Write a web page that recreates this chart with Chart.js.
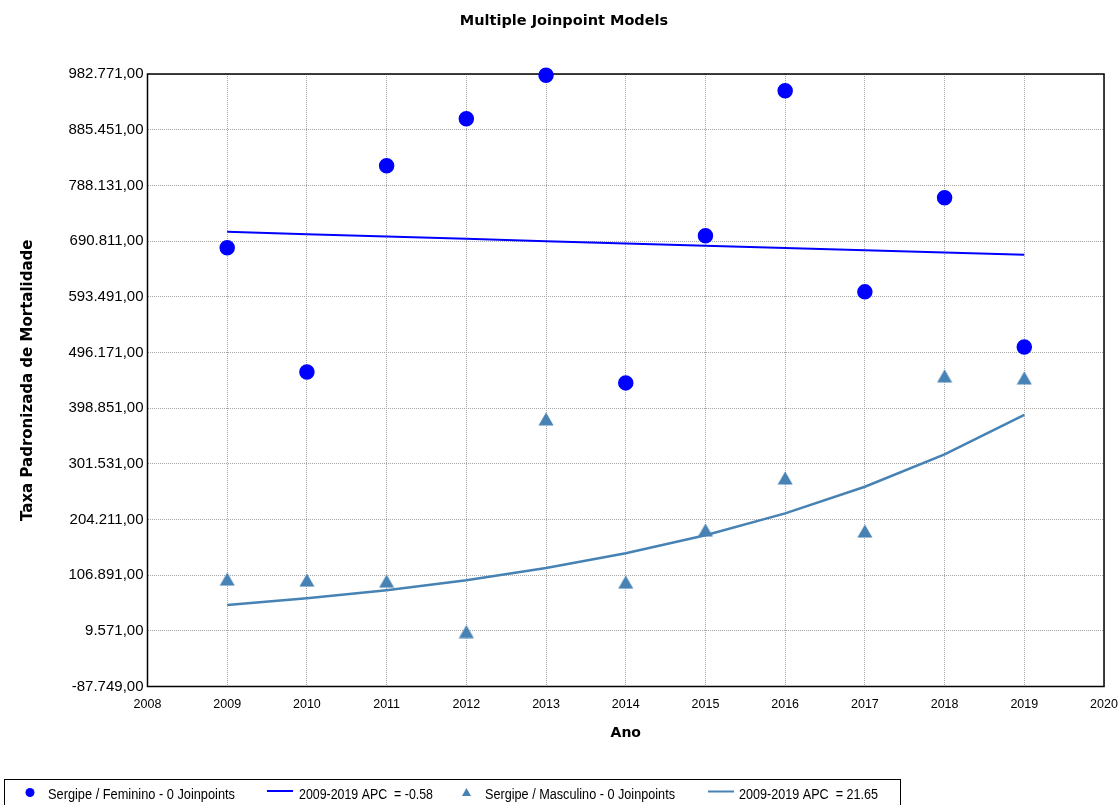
<!DOCTYPE html>
<html>
<head>
<meta charset="utf-8">
<script src="https://cdn.jsdelivr.net/npm/chart.js@4.4.0/dist/chart.umd.min.js"></script>
<style>
  html, body { margin: 0; padding: 0; background: #ffffff; }
  #wrap { width: 1119px; height: 805px; position: relative; }
</style>
</head>
<body>
<div id="wrap"><canvas id="chart" width="1119" height="805"></canvas></div>
<script>
// Years observed
const years = [2009, 2010, 2011, 2012, 2013, 2014, 2015, 2016, 2017, 2018, 2019];

// Sergipe / Feminino: observed rates and fitted joinpoint model (APC = -0.58)
const feminino      = [679000, 462100, 822400, 904600, 980500, 442900, 700000, 953600, 602000, 766400, 505800];
const femininoTrend = [706900, 702800, 698700, 694700, 690600, 686600, 682700, 678700, 674800, 670800, 666900];

// Sergipe / Masculino: observed rates and fitted joinpoint model (APC = 21.65)
const masculino      = [100000, 98200, 96500, 8200, 379900, 94700, 185700, 276700, 184000, 455100, 451600];
const masculinoTrend = [54500, 66300, 80650, 98100, 119350, 145200, 176600, 214900, 261400, 318000, 386800];

// Axis ticks
const xTickValues = [2008, 2009, 2010, 2011, 2012, 2013, 2014, 2015, 2016, 2017, 2018, 2019, 2020];
const yTickValues = [-87749, 9571, 106891, 204211, 301531, 398851, 496171, 593491, 690811, 788131, 885451, 982771];
const yTickLabels = ['-87.749,00', '9.571,00', '106.891,00', '204.211,00', '301.531,00', '398.851,00',
                     '496.171,00', '593.491,00', '690.811,00', '788.131,00', '885.451,00', '982.771,00'];

// Texts
const chartTitle = 'Multiple Joinpoint Models';
const xTitle = 'Ano';
const yTitle = 'Taxa Padronizada de Mortalidade';
const seriesLabels = [
  'Sergipe / Feminino - 0 Joinpoints',
  '2009-2019 APC  = -0.58',
  'Sergipe / Masculino - 0 Joinpoints',
  '2009-2019 APC  = 21.65'
];

const BLUE = '#0000FF';
const STEEL = '#4682B4';

function toPoints(values) {
  return years.map((yr, i) => ({ x: yr, y: values[i] }));
}

// Triangle marker, centred on its bounding box
function makeTriangle(w, h, color) {
  const c = document.createElement('canvas');
  c.width = w; c.height = h;
  const g = c.getContext('2d');
  g.fillStyle = color;
  g.beginPath();
  g.moveTo(w / 2, 0.5);
  g.lineTo(w - 0.5, h - 0.5);
  g.lineTo(0.5, h - 0.5);
  g.closePath();
  g.fill();
  return c;
}
const triangleMarker = makeTriangle(16, 14, STEEL);

// Plot frame, title and the boxed legend at the bottom
const decorations = {
  id: 'decorations',
  beforeDatasetsDraw(chart) {
    const { ctx, chartArea: a } = chart;
    ctx.save();
    ctx.strokeStyle = '#000';
    ctx.lineWidth = 1.5;
    ctx.strokeRect(a.left, a.top, a.right - a.left, a.bottom - a.top);
    ctx.restore();
  },
  afterDraw(chart) {
    const ctx = chart.ctx;
    const ds = chart.data.datasets;
    ctx.save();
    // title
    ctx.fillStyle = '#000';
    ctx.font = 'bold 14.5px "DejaVu Sans", Verdana, sans-serif';
    ctx.textAlign = 'center';
    ctx.textBaseline = 'middle';
    ctx.fillText(chartTitle, 564, 21);

    // legend box
    ctx.strokeStyle = '#000';
    ctx.lineWidth = 1;
    ctx.strokeRect(4.5, 779.5, 896, 40);

    ctx.font = '14px "Liberation Sans Narrow", "Liberation Sans", Arial, sans-serif';
    ctx.textAlign = 'left';
    ctx.textBaseline = 'alphabetic';
    const textY = 799;

    // circle
    ctx.fillStyle = ds[0].backgroundColor;
    ctx.beginPath();
    ctx.arc(30, 792.5, 4.5, 0, Math.PI * 2);
    ctx.fill();
    ctx.fillStyle = '#000';
    ctx.fillText(ds[0].label, 48, textY, 187);

    // line
    ctx.strokeStyle = ds[1].borderColor;
    ctx.lineWidth = 2;
    ctx.beginPath();
    ctx.moveTo(267, 791); ctx.lineTo(293, 791);
    ctx.stroke();
    ctx.fillText(ds[1].label, 299, textY, 134);

    // triangle
    ctx.fillStyle = STEEL;
    ctx.beginPath();
    ctx.moveTo(466.5, 788);
    ctx.lineTo(471, 796);
    ctx.lineTo(462, 796);
    ctx.closePath();
    ctx.fill();
    ctx.fillStyle = '#000';
    ctx.fillText(ds[2].label, 485, textY, 190);

    // line
    ctx.strokeStyle = ds[3].borderColor;
    ctx.lineWidth = 2;
    ctx.beginPath();
    ctx.moveTo(708, 791.5); ctx.lineTo(734, 791.5);
    ctx.stroke();
    ctx.fillText(ds[3].label, 739, textY, 139);
    ctx.restore();
  }
};

const tickFont = { family: '"Liberation Sans", Arial, sans-serif' };
const gridStyle = { color: '#a6a6a6', lineWidth: 1, drawTicks: false };

new Chart(document.getElementById('chart'), {
  type: 'scatter',
  data: {
    datasets: [
      {
        label: seriesLabels[0],
        data: toPoints(feminino),
        pointStyle: 'circle',
        pointRadius: 7,
        borderWidth: 1.5,
        backgroundColor: BLUE,
        borderColor: BLUE,
        showLine: false,
        clip: false,
        order: 1
      },
      {
        label: seriesLabels[1],
        data: toPoints(femininoTrend),
        showLine: true,
        pointRadius: 0,
        borderColor: BLUE,
        backgroundColor: BLUE,
        borderWidth: 2,
        order: 2
      },
      {
        label: seriesLabels[2],
        data: toPoints(masculino),
        pointStyle: triangleMarker,
        pointRadius: 8,
        backgroundColor: STEEL,
        borderColor: STEEL,
        showLine: false,
        clip: false,
        order: 1
      },
      {
        label: seriesLabels[3],
        data: toPoints(masculinoTrend),
        showLine: true,
        pointRadius: 0,
        borderColor: STEEL,
        backgroundColor: STEEL,
        borderWidth: 2.5,
        order: 2
      }
    ]
  },
  options: {
    responsive: false,
    animation: false,
    layout: { padding: { top: 74, left: 0, right: 15, bottom: 0 } },
    plugins: {
      legend: { display: false },
      title: { display: false },
      tooltip: { enabled: false }
    },
    scales: {
      x: {
        type: 'linear',
        min: 2008,
        max: 2020,
        afterBuildTicks: (s) => { s.ticks = xTickValues.map(v => ({ value: v })); },
        afterFit: (s) => { s.height = 118.5; s.paddingLeft = 0; s.paddingRight = 0; },
        ticks: {
          callback: (v) => String(v),
          font: { ...tickFont, size: 12.5 },
          color: '#000',
          padding: 11,
          maxRotation: 0,
          autoSkip: false
        },
        grid: gridStyle,
        border: { display: false, dash: [1, 1] },
        title: {
          display: true,
          text: xTitle,
          color: '#000',
          font: { family: '"DejaVu Sans", Verdana, sans-serif', weight: 'bold', size: 14 },
          padding: { top: 0, bottom: 63.6 }
        }
      },
      y: {
        type: 'linear',
        min: yTickValues[0],
        max: yTickValues[yTickValues.length - 1],
        afterBuildTicks: (s) => { s.ticks = yTickValues.map(v => ({ value: v })); },
        afterFit: (s) => { s.width = 147.5; s.paddingTop = 0; s.paddingBottom = 0; },
        ticks: {
          callback: (v, i) => yTickLabels[i],
          font: { ...tickFont, size: 15 },
          color: '#000',
          padding: 4,
          autoSkip: false
        },
        grid: gridStyle,
        border: { display: false, dash: [1, 1] },
        title: {
          display: true,
          text: yTitle,
          color: '#000',
          font: { family: '"DejaVu Sans", Verdana, sans-serif', weight: 'bold', size: 15 },
          padding: { top: 19, bottom: 0 }
        }
      }
    }
  },
  plugins: [decorations]
});
</script>
</body>
</html>
